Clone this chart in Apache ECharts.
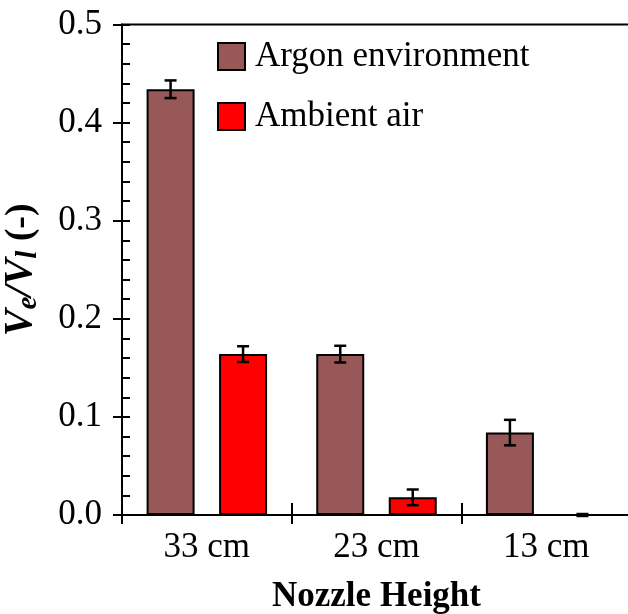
<!DOCTYPE html>
<html lang="en" style="height: 100%">
<head>
    <meta charset="UTF-8">
    <title>Nozzle height</title>
    <script src="https://cdn.jsdelivr.net/npm/echarts@6/dist/echarts.min.js"></script>
</head>
<body style="height: 100%; margin: 0">
<div id="container" style="width: 628px; height: 614px"></div>
<script type="text/javascript">
    var categories = ['33 cm', '23 cm', '13 cm'];
    var argonValues = [0.434, 0.164, 0.084];
    var argonErrors = [0.009, 0.0085, 0.013];
    var airValues = [0.164, 0.018, 0.0];
    var airErrors = [0.008, 0.008, 0.001];
    var yTicks = [0, 0.1, 0.2, 0.3, 0.4, 0.5];

    var FONT = 'Liberation Serif';
    var BAR_W = 48;
    var GAP_PX = 24.5;

    var dom = document.getElementById('container');
    var myChart = echarts.init(dom);

    function errData(values, errors) {
        return values.map(function (v, i) {
            return [i, v, errors[i]];
        });
    }

    // draws the I-shaped error bar shifted onto its bar in the group
    function errorBar(side) {
        return function (params, api) {
            var x = api.value(0), v = api.value(1), e = api.value(2);
            var hi = api.coord([x, v + e]);
            var lo = api.coord([x, v - e]);
            var cx = hi[0] + side * (BAR_W + GAP_PX) / 2;
            var half = 6;
            var st = {stroke: '#000', lineWidth: 2.5};
            return {
                type: 'group',
                children: [
                    {type: 'line', shape: {x1: cx, y1: hi[1], x2: cx, y2: lo[1]}, style: st},
                    {type: 'line', shape: {x1: cx - half, y1: hi[1], x2: cx + half, y2: hi[1]}, style: st},
                    {type: 'line', shape: {x1: cx - half, y1: lo[1], x2: cx + half, y2: lo[1]}, style: st}
                ]
            };
        };
    }

    var option = {
        animation: false,
        textStyle: {fontFamily: FONT, color: '#000'},
        grid: {
            left: 122, top: 24.5, right: -3, bottom: 99,
            outerBoundsMode: 'none',
            show: true, borderColor: '#000', borderWidth: 2
        },
        legend: {
            orient: 'vertical',
            left: 217, top: 39,
            padding: 0,
            itemWidth: 27, itemHeight: 27, itemGap: 25,
            icon: 'rect',
            data: ['Argon environment', 'Ambient air'],
            textStyle: {fontFamily: FONT, fontSize: 35, color: '#000', padding: [0, 0, 0, 5]}
        },
        xAxis: [{
            type: 'category',
            data: categories,
            position: 'bottom',
            name: 'Nozzle Height',
            nameLocation: 'middle',
            nameGap: 64,
            nameTextStyle: {fontFamily: FONT, fontSize: 35, fontWeight: 'bold', color: '#000'},
            axisLine: {lineStyle: {color: '#000', width: 2}},
            axisTick: {show: true, length: 9, lineStyle: {color: '#000', width: 2}},
            axisLabel: {fontFamily: FONT, fontSize: 35, color: '#000', margin: 15}
        }, {
            type: 'category',
            data: categories,
            position: 'bottom',
            axisLine: {show: false},
            axisTick: {show: true, inside: true, length: 12, lineStyle: {color: '#000', width: 2}},
            axisLabel: {show: false}
        }],
        yAxis: [{
            type: 'value',
            position: 'left',
            min: yTicks[0], max: yTicks[yTicks.length - 1], interval: 0.1,
            name: '{v|V}{s|e}{v|/V}{s|l}{p| (-)}',
            nameLocation: 'middle',
            nameGap: 79,
            nameRotate: 90,
            nameTextStyle: {
                rich: {
                    v: {fontFamily: FONT, fontSize: 40, fontWeight: 'bold', fontStyle: 'italic', color: '#000'},
                    s: {fontFamily: FONT, fontSize: 29, fontWeight: 'bold', fontStyle: 'italic', color: '#000', padding: [15, 0, 0, 0]},
                    p: {fontFamily: FONT, fontSize: 38, fontWeight: 'bold', color: '#000'}
                }
            },
            splitLine: {show: false},
            axisLine: {show: true, lineStyle: {color: '#000', width: 2}},
            axisTick: {show: true, length: 9, lineStyle: {color: '#000', width: 2}},
            axisLabel: {
                fontFamily: FONT, fontSize: 35, color: '#000', margin: 20,
                formatter: function (v) { return v.toFixed(1); }
            }
        }, {
            type: 'value',
            position: 'left',
            min: yTicks[0], max: yTicks[yTicks.length - 1], interval: 0.1,
            splitLine: {show: false},
            axisLine: {show: false},
            axisTick: {show: true, inside: true, length: 8, lineStyle: {color: '#000', width: 2}},
            minorTick: {show: true, splitNumber: 5, length: 8, lineStyle: {color: '#000', width: 2}},
            axisLabel: {show: false}
        }],
        series: [{
            name: 'Argon environment',
            type: 'bar',
            data: argonValues,
            barWidth: BAR_W,
            barGap: (GAP_PX / BAR_W * 100) + '%',
            itemStyle: {color: '#985858', borderColor: '#000', borderWidth: 2}
        }, {
            name: 'Ambient air',
            type: 'bar',
            data: airValues,
            barWidth: BAR_W,
            itemStyle: {color: '#ff0000', borderColor: '#000', borderWidth: 2}
        }, {
            type: 'custom',
            renderItem: errorBar(-1),
            data: errData(argonValues, argonErrors),
            encode: {x: 0, y: 1},
            z: 5
        }, {
            type: 'custom',
            renderItem: errorBar(1),
            data: errData(airValues, airErrors),
            encode: {x: 0, y: 1},
            z: 5
        }]
    };

    myChart.setOption(option);
</script>
</body>
</html>
